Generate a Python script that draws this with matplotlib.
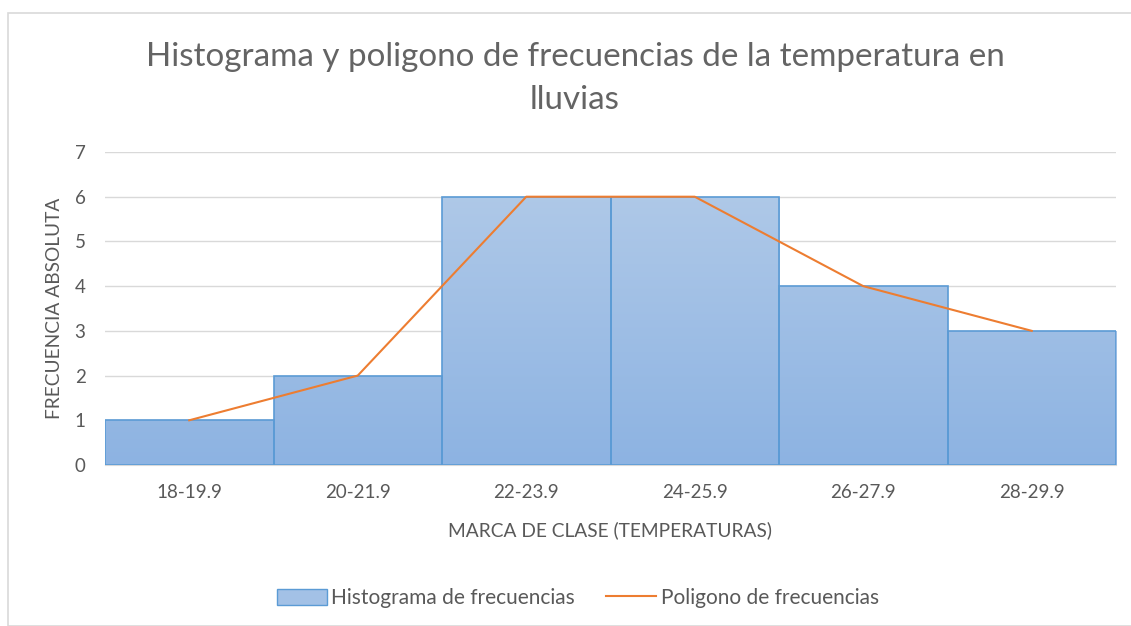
import numpy as np
import matplotlib
matplotlib.use("Agg")
import matplotlib.pyplot as plt
from matplotlib.patches import Rectangle
from matplotlib.lines import Line2D
from matplotlib.colors import LinearSegmentedColormap

categories = ["18-19.9", "20-21.9", "22-23.9", "24-25.9", "26-27.9", "28-29.9"]
frequencies = [1, 2, 6, 6, 4, 3]
title = "Histograma y poligono de frecuencias de la temperatura en\nlluvias"

plt.rcParams['font.family'] = ['Lato', 'DejaVu Sans']
W, H = 1131, 626
fig = plt.figure(figsize=(W/100, H/100), dpi=100)
ax = fig.add_axes([105/W, 1-465/H, (1116-105)/W, (465-152)/H])

x = np.arange(len(categories))
bars = ax.bar(x, frequencies, width=1.0, facecolor='none', edgecolor='#5b9bd5', linewidth=1.2, zorder=3)
cmap = LinearSegmentedColormap.from_list('g', ['#8db3e2', '#b4cce9'])
grad = np.linspace(0, 1, 256).reshape(-1, 1)
for b in bars:
    im = ax.imshow(grad, extent=[-0.5, len(categories)-0.5, 0, 7], origin='lower', cmap=cmap,
                   aspect='auto', zorder=2)
    im.set_clip_path(b)
ax.plot(x, frequencies, color='#ed7d31', linewidth=1.5, zorder=4)

ax.set_xlim(-0.5, len(categories)-0.5)
ax.set_ylim(0, 7)
ax.set_yticks(range(0, 8))
ax.set_xticks(x)
ax.set_xticklabels(categories)
ax.tick_params(axis='both', length=0, labelsize=13.5, labelcolor='#595959')
ax.tick_params(axis='x', pad=14)
ax.tick_params(axis='y', pad=14)
ax.grid(axis='y', color='#d9d9d9', linewidth=1, zorder=0)
ax.set_axisbelow(True)
for s in ['top', 'right', 'left']:
    ax.spines[s].set_visible(False)
ax.spines['bottom'].set_color('#d9d9d9')
ax.set_xlabel("MARCA DE CLASE (TEMPERATURAS)", fontsize=13.8, color='#595959', labelpad=14)
ax.set_ylabel("FRECUENCIA ABSOLUTA", fontsize=13.8, color='#595959', labelpad=8)

fig.text(575/W, 1-78.5/H, title, ha='center', va='center', fontsize=23.9, color='#646464',
         fontweight='normal', linespacing=1.58)

fig.patches.append(Rectangle((8/W, 0), 1.2, 1-13/H, transform=fig.transFigure, fill=False,
                             edgecolor='#d9d9d9', linewidth=1.2))

handles = [Rectangle((0, 0), 1, 1, facecolor='#a3c1e6', edgecolor='#5b9bd5'),
           Line2D([0], [0], color='#ed7d31', linewidth=1.5)]
fig.legend(handles, ["Histograma de frecuencias", "Poligono de frecuencias"], loc='center',
           bbox_to_anchor=(578/W, 1-598/H), ncol=2, frameon=False, fontsize=15,
           labelcolor='#595959', handlelength=2.4, handleheight=0.8, handletextpad=0.2,
           columnspacing=1.5)

fig.savefig("out.png", dpi=100)
